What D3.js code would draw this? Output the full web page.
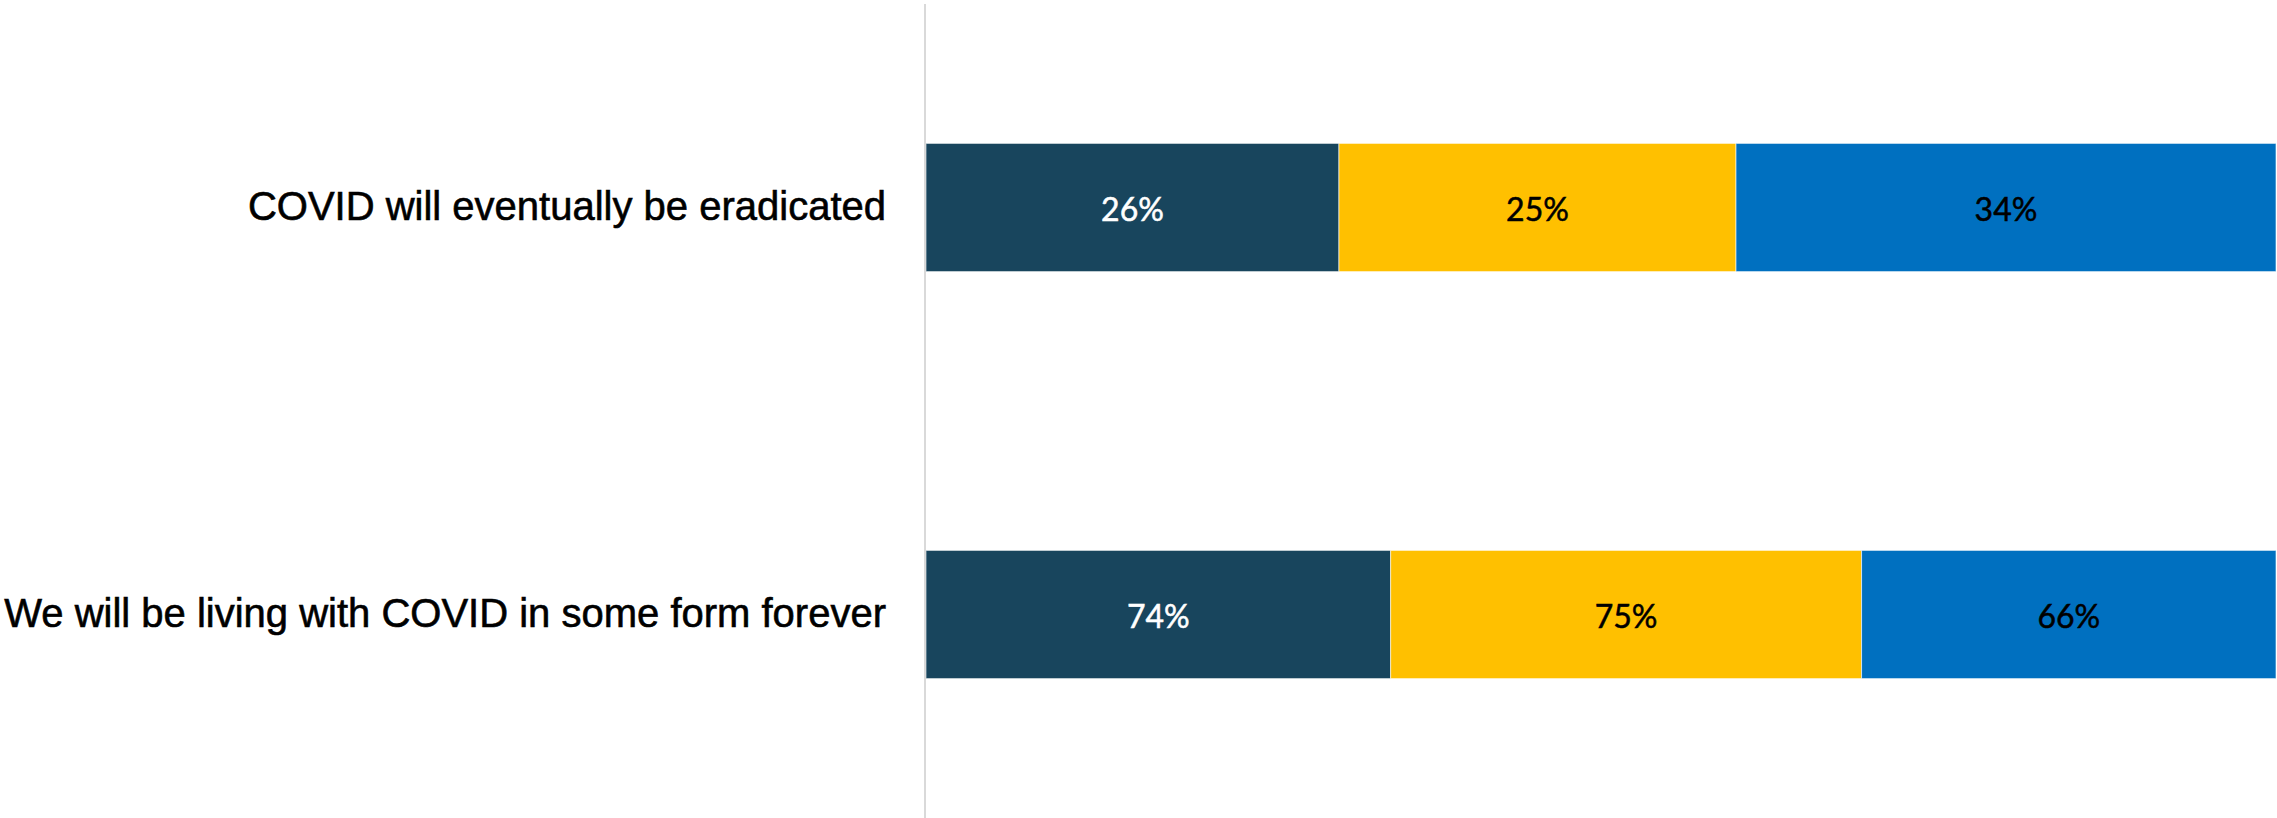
<!DOCTYPE html>
<html>
<head>
<meta charset="utf-8">
<script src="https://cdn.jsdelivr.net/npm/d3@7"></script>
<style>
  html, body { margin: 0; padding: 0; background: #ffffff; }
  svg { display: block; }
</style>
</head>
<body>
<svg id="chart" width="2277" height="818"></svg>
<script>
// ---- data ----
const categories = [
  "COVID will eventually be eradicated",
  "We will be living with COVID in some form forever"
];
const seriesNames = ["Group A", "Group B", "Group C"];
const seriesA = [26, 74];
const seriesB = [25, 75];
const seriesC = [34, 66];
const seriesColors = ["#18455D", "#FFC000", "#0070C0"];
const labelColors = ["#ffffff", "#000000", "#000000"];

// ---- layout ----
const plotLeft = 926, plotRight = 2276, plotTop = 4, plotBottom = 818;

const svg = d3.select("#chart");

const rows = categories.map((c, i) => {
  const vals = [seriesA[i], seriesB[i], seriesC[i]];
  const obj = { category: c };
  seriesNames.forEach((s, j) => obj[s] = vals[j]);
  return obj;
});

const stack = d3.stack().keys(seriesNames).offset(d3.stackOffsetExpand);
const stacked = stack(rows);

const x = d3.scaleLinear().domain([0, 1]).range([plotLeft, plotRight]);
const y = d3.scaleBand().domain(categories).range([plotTop, plotBottom])
  .paddingInner(0.685).paddingOuter(0.3425);

// bars
const layers = svg.append("g").selectAll("g")
  .data(stacked).join("g")
  .attr("fill", (d, i) => seriesColors[i]);

layers.selectAll("rect")
  .data(d => d.map(p => ({ p, cat: p.data.category })))
  .join("rect")
  .attr("x", d => x(d.p[0]))
  .attr("width", d => x(d.p[1]) - x(d.p[0]))
  .attr("y", d => y(d.cat))
  .attr("height", y.bandwidth())
  .attr("stroke", "#ffffff")
  .attr("stroke-opacity", 0.6)
  .attr("stroke-width", 1);

// data labels
stacked.forEach((layer, i) => {
  svg.append("g").selectAll("text")
    .data(layer)
    .join("text")
    .attr("x", d => (x(d[0]) + x(d[1])) / 2)
    .attr("y", d => y(d.data.category) + y.bandwidth() / 2 + 1)
    .attr("text-anchor", "middle")
    .attr("dominant-baseline", "central")
    .attr("font-family", "Lato, 'Open Sans', sans-serif")
    .attr("font-size", 32)
    .attr("fill", labelColors[i])
    .attr("stroke", labelColors[i])
    .attr("stroke-width", 0.5)
    .text(d => d.data[layer.key] + "%");
});

// axis (left vertical line with category labels)
const yAxis = d3.axisLeft(y).tickSize(0).tickPadding(39);
const ax = svg.append("g")
  .attr("transform", `translate(${plotLeft - 1},0)`)
  .call(yAxis);
ax.select(".domain").attr("stroke", "#D9D9D9").attr("stroke-width", 2)
  .attr("d", `M0,${plotTop}V${plotBottom}`);
ax.selectAll("text")
  .attr("font-family", "'Liberation Sans', Arial, sans-serif")
  .attr("font-size", 40)
  .attr("fill", "#000000")
  .attr("stroke", "#000000")
  .attr("stroke-width", 0.6);
</script>
</body>
</html>
